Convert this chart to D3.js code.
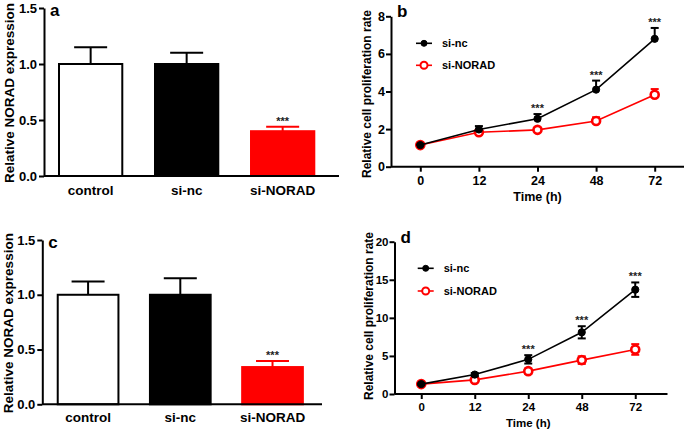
<!DOCTYPE html>
<html>
<head>
<meta charset="utf-8">
<script src="https://cdn.jsdelivr.net/npm/d3@7"></script>
<style>
  body { margin: 0; background: #fff; }
  svg { display: block; font-family: "Liberation Sans", Arial, sans-serif; font-weight: bold; }
</style>
</head>
<body>
<svg id="chart" width="685" height="431"></svg>
<script>
// bar panels (a, c)
const groups = ['control', 'si-nc', 'si-NORAD'];
const barA = [1.0, 1.0, 0.40];
const barAErr = [0.15, 0.10, 0.04];
const barC = [1.0, 1.0, 0.34];
const barCErr = [0.12, 0.15, 0.055];
const barTicks = [0, 0.5, 1.0, 1.5];

// line panels (b, d)
const times = ['0', '12', '24', '48', '72'];
const ncB = [1.15, 1.98, 2.55, 4.1, 6.8];
const ncBErr = [0.03, 0.18, 0.25, 0.48, 0.58];
const noradB = [1.15, 1.83, 1.96, 2.43, 3.83];
const noradBErr = [0.03, 0.08, 0.06, 0.2, 0.3];
const ncD = [1.3, 2.55, 4.55, 8.1, 13.7];
const ncDErr = [0.1, 0.2, 0.55, 0.8, 0.95];
const noradD = [1.3, 1.85, 3.0, 4.45, 5.85];
const noradDErr = [0.1, 0.15, 0.35, 0.5, 0.7];
const starsAt = ['24', '48', '72'];

const svg = d3.select('#chart');
const RED = '#ff0000';

function yAxisLabel(g, text, x, yc, size) {
  g.append('text')
    .attr('transform', `translate(${x},${yc}) rotate(-90)`)
    .attr('text-anchor', 'middle')
    .attr('font-size', size)
    .text(text);
}

function styleAxis(ax, size) {
  ax.select('.domain').attr('stroke-width', 2);
  ax.selectAll('.tick line').attr('stroke-width', 2);
  ax.selectAll('.tick text').attr('font-size', size).attr('font-weight', 'bold').attr('fill', '#000');
}

function drawBars(o) {
  const g = svg.append('g');
  const x = d3.scaleBand().domain(groups).range([o.x0, o.x1])
    .paddingInner(0.32).paddingOuter(0.15);
  const y = d3.scaleLinear().domain([0, 1.5]).range([o.yb, o.yt]);
  const fills = ['#fff', '#000', RED];
  const strokes = ['#000', '#000', RED];

  // error bars (upper only)
  groups.forEach((k, i) => {
    const cx = x(k) + x.bandwidth() / 2;
    const top = y(o.vals[i] + o.errs[i]);
    g.append('line').attr('x1', cx).attr('x2', cx)
      .attr('y1', y(o.vals[i])).attr('y2', top)
      .attr('stroke', strokes[i]).attr('stroke-width', 2);
    g.append('line').attr('x1', cx - 16.5).attr('x2', cx + 16.5)
      .attr('y1', top).attr('y2', top)
      .attr('stroke', strokes[i]).attr('stroke-width', 2);
  });

  g.selectAll('rect.bar')
    .data(groups)
    .enter()
    .append('rect')
    .attr('class', 'bar')
    .attr('x', (d) => x(d) + 1)
    .attr('width', x.bandwidth() - 2)
    .attr('y', (d, i) => y(o.vals[i]))
    .attr('height', (d, i) => o.yb - y(o.vals[i]))
    .attr('fill', (d, i) => fills[i])
    .attr('stroke', (d, i) => strokes[i])
    .attr('stroke-width', 2);

  // significance
  const last = groups.length - 1;
  g.append('text')
    .attr('x', x(groups[last]) + x.bandwidth() / 2)
    .attr('y', y(o.vals[last] + o.errs[last]) - 2)
    .attr('text-anchor', 'middle')
    .attr('font-size', 11)
    .attr('fill', '#222')
    .text('***');

  const ay = g.append('g')
    .attr('transform', `translate(${o.ax},0)`)
    .call(d3.axisLeft(y).tickValues(barTicks).tickFormat(d3.format('.1f')).tickSize(5).tickPadding(2).tickSizeOuter(0));
  styleAxis(ay, 13);

  g.append('line').attr('x1', o.ax).attr('x2', o.axEnd)
    .attr('y1', o.yb).attr('y2', o.yb)
    .attr('stroke', '#000').attr('stroke-width', 2);

  g.selectAll('text.cat')
    .data(groups)
    .enter()
    .append('text')
    .attr('class', 'cat')
    .attr('x', (d) => x(d) + x.bandwidth() / 2)
    .attr('y', o.yb + o.labelDy)
    .attr('text-anchor', 'middle')
    .attr('font-size', 13.5)
    .text((d) => d);

  yAxisLabel(g, 'Relative NORAD expression', o.labelX, (o.yb + o.yt) / 2 + 1, 13.5);
  g.append('text').attr('x', o.ax + 6).attr('y', o.yt + 8).attr('font-size', 17).text(o.tag);
}

function drawLines(o) {
  const g = svg.append('g');
  const x = d3.scalePoint().domain(times).range([o.x0, o.x1]).padding(0.5);
  const y = d3.scaleLinear().domain([0, o.ymax]).range([o.yb, o.yt]);
  const line = d3.line().x((d, i) => x(times[i])).y((d) => y(d));

  const series = [
    { vals: o.norad, errs: o.noradErr, color: RED, open: true },
    { vals: o.nc, errs: o.ncErr, color: '#000', open: false },
  ];

  series.forEach((s) => {
    g.append('path').datum(s.vals)
      .attr('d', line)
      .attr('fill', 'none')
      .attr('stroke', s.color)
      .attr('stroke-width', 1.6);
    s.vals.forEach((v, i) => {
      const cx = x(times[i]);
      const hi = y(v + s.errs[i]);
      const lo = o.both ? y(v - s.errs[i]) : y(v);
      g.append('line').attr('x1', cx).attr('x2', cx).attr('y1', lo).attr('y2', hi)
        .attr('stroke', s.color).attr('stroke-width', 2);
      g.append('line').attr('x1', cx - 4).attr('x2', cx + 4).attr('y1', hi).attr('y2', hi)
        .attr('stroke', s.color).attr('stroke-width', 2);
      if (o.both) {
        g.append('line').attr('x1', cx - 4).attr('x2', cx + 4).attr('y1', lo).attr('y2', lo)
          .attr('stroke', s.color).attr('stroke-width', 2);
      }
    });
    g.selectAll(null).data(s.vals).enter()
      .append('circle')
      .attr('cx', (d, i) => x(times[i]))
      .attr('cy', (d) => y(d))
      .attr('r', s.open ? 4 : 3.6)
      .attr('fill', s.open ? '#fff' : '#000')
      .attr('stroke', s.color)
      .attr('stroke-width', s.open ? 2.6 : 1);
  });

  // significance above si-nc
  starsAt.forEach((t) => {
    const i = times.indexOf(t);
    g.append('text')
      .attr('x', x(t))
      .attr('y', y(o.nc[i] + o.ncErr[i]) - 2)
      .attr('text-anchor', 'middle')
      .attr('font-size', 11)
      .attr('fill', '#222')
      .text('***');
  });

  const ay = g.append('g')
    .attr('transform', `translate(${o.x0},0)`)
    .call(d3.axisLeft(y).ticks(4).tickSize(5).tickPadding(1).tickSizeOuter(0));
  styleAxis(ay, o.tickFont);

  const ax = g.append('g')
    .attr('transform', `translate(0,${o.yb})`)
    .call(d3.axisBottom(x).tickSize(5).tickPadding(4).tickSizeOuter(0));
  styleAxis(ax, o.tickFont);
  ax.select('.domain').attr('d', `M${o.x0},0H${o.axEnd}`);

  g.append('text')
    .attr('x', (o.x0 + o.x1) / 2)
    .attr('y', o.yb + o.timeDy)
    .attr('text-anchor', 'middle')
    .attr('font-size', o.timeFont)
    .text('Time (h)');

  yAxisLabel(g, 'Relative cell proliferation rate', o.labelX, o.labelY, 12);
  g.append('text').attr('x', o.x0 + 6).attr('y', o.yt + 1).attr('font-size', 17).text(o.tag);

  // legend
  const legend = [
    { name: 'si-nc', color: '#000', open: false },
    { name: 'si-NORAD', color: RED, open: true },
  ];
  legend.forEach((l, i) => {
    const ly = o.legY + i * o.legGap;
    g.append('line').attr('x1', o.legX).attr('x2', o.legX + 16)
      .attr('y1', ly).attr('y2', ly)
      .attr('stroke', l.color).attr('stroke-width', 1.6);
    g.append('circle').attr('cx', o.legX + 8).attr('cy', ly)
      .attr('r', l.open ? 3.5 : 3)
      .attr('fill', l.open ? '#fff' : '#000')
      .attr('stroke', l.color).attr('stroke-width', l.open ? 2 : 1);
    g.append('text').attr('x', o.legX + 26).attr('y', ly + 4)
      .attr('font-size', 11).text(l.name);
  });
}

drawBars({
  tag: 'a', vals: barA, errs: barAErr,
  ax: 44, axEnd: 339, x0: 43.6, x1: 329.7, yb: 176, yt: 8,
  labelDy: 19, labelX: 13.5,
});
drawBars({
  tag: 'c', vals: barC, errs: barCErr,
  ax: 42.3, axEnd: 322, x0: 42.9, x1: 317.7, yb: 404.3, yt: 240,
  labelDy: 17.5, labelX: 13,
});
drawLines({
  tag: 'b', nc: ncB, ncErr: ncBErr, norad: noradB, noradErr: noradBErr,
  both: false, ymax: 8, x0: 391, x1: 684, axEnd: 684, yb: 166.7, yt: 16.3,
  tickFont: 12.5, timeFont: 12.5,
  timeDy: 34, labelX: 371, labelY: 94, legX: 416, legY: 43.3, legGap: 22,
});
drawLines({
  tag: 'd', nc: ncD, ncErr: ncDErr, norad: noradD, noradErr: noradDErr,
  both: true, ymax: 20, x0: 394.5, x1: 662, axEnd: 667.5, yb: 394, yt: 241.7,
  tickFont: 11.5, timeFont: 11.5,
  timeDy: 33, labelX: 372.5, labelY: 316, legX: 417.7, legY: 268.3, legGap: 22.7,
});
</script>
</body>
</html>
